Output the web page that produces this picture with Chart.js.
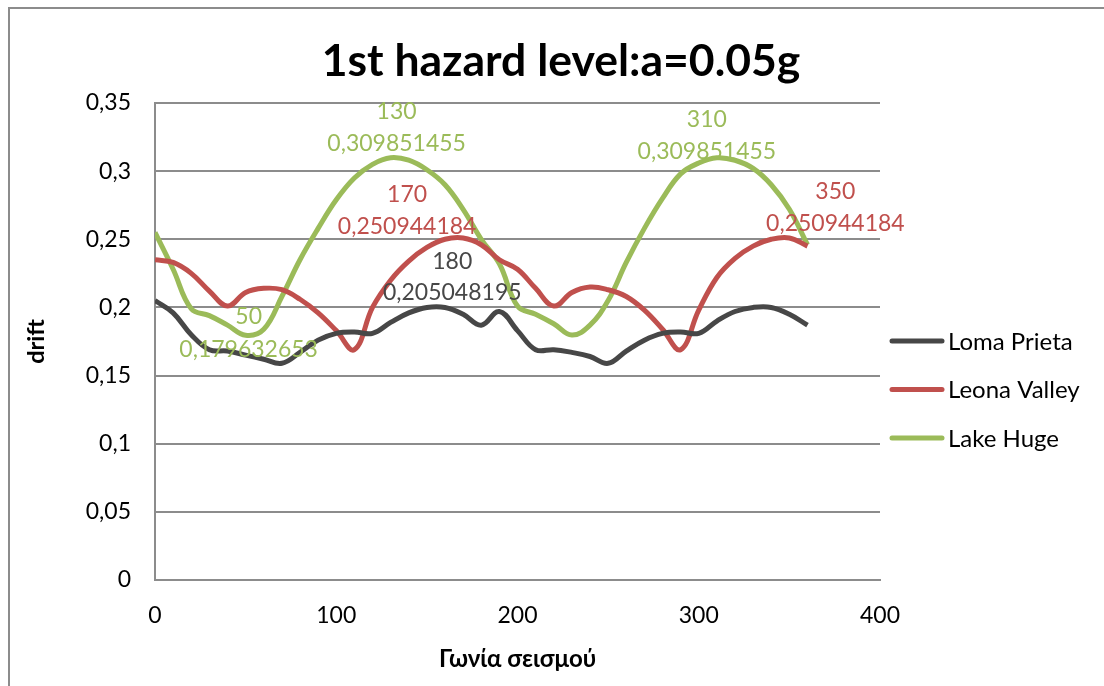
<!DOCTYPE html>
<html>
<head>
<meta charset="utf-8">
<script src="https://cdn.jsdelivr.net/npm/chart.js@4.4.1/dist/chart.umd.min.js"></script>
<style>
  html, body { margin: 0; padding: 0; background: #fff; }
  #wrap { position: relative; width: 1104px; height: 686px; overflow: hidden; background: #fff; }
  #frame { position: absolute; left: 8px; top: 7px; width: 1300px; height: 900px; border: 2px solid #8c8c8c; box-sizing: border-box; }
  #driftChart { position: absolute; left: 0; top: 0; }
</style>
</head>
<body>
<div id="wrap">
  <div id="frame"></div>
  <canvas id="driftChart" width="1104" height="686"></canvas>
</div>
<script>
// earthquake angle (deg) vs drift
const angles = [0, 10, 20, 30, 40, 50, 60, 70, 80, 90, 100, 110, 120, 130, 140, 150, 160, 170, 180,
                190, 200, 210, 220, 230, 240, 250, 260, 270, 280, 290, 300, 310, 320, 330, 340, 350, 360];

const lomaPrieta = [0.205, 0.196, 0.180, 0.169, 0.168, 0.165, 0.162, 0.159, 0.167, 0.176, 0.181, 0.182, 0.181,
                    0.189, 0.196, 0.200, 0.200, 0.195, 0.187, 0.197, 0.183, 0.169, 0.169, 0.167, 0.164, 0.159,
                    0.168, 0.176, 0.181, 0.182, 0.181, 0.190, 0.197, 0.200, 0.200, 0.195, 0.187];

const leonaValley = [0.235, 0.233, 0.225, 0.212, 0.201, 0.211, 0.214, 0.213, 0.206, 0.196, 0.183, 0.169, 0.200,
                     0.220, 0.234, 0.244, 0.250, 0.250944184, 0.246, 0.235, 0.228, 0.214, 0.201, 0.211, 0.215,
                     0.213, 0.208, 0.198, 0.184, 0.169, 0.198, 0.222, 0.236, 0.245, 0.250, 0.250944184, 0.245];

const lakeHuge = [0.255, 0.228, 0.199, 0.194, 0.187, 0.179632653, 0.184, 0.208, 0.235, 0.258, 0.279, 0.295,
                  0.305, 0.309851455, 0.308, 0.301, 0.290, 0.272, 0.250, 0.232, 0.201, 0.195, 0.188, 0.1797,
                  0.187, 0.205, 0.233, 0.258, 0.280, 0.298, 0.306, 0.309851455, 0.308, 0.302, 0.290, 0.272, 0.246];

const seriesNames = ['Loma Prieta', 'Leona Valley', 'Lake Huge'];
const seriesColors = ['#474747', '#C0504D', '#9BBB59'];

// data labels shown on the chart: which series, which angle, label value
const labelSeries = [2, 1, 0, 2, 2, 1];
const labelAngles = [130, 170, 180, 50, 310, 350];
const labelValues = [0.309851455, 0.250944184, 0.205048195, 0.179632653, 0.309851455, 0.250944184];

const yMin = 0, yMax = 0.35, yStep = 0.05;
const xMin = 0, xMax = 400, xStep = 100;

const FONT = 'Lato, "Open Sans", sans-serif';

function commaNum(v) {
    return String(v).replace('.', ',');
}

// label nudges in px (the excel labels were dragged around by hand)
const labelOffsets = [
    { dx: 6, dy: [-46, -14] },
    { dx: -56, dy: [-43, -11] },
    { dx: -29, dy: [-64, -33] },
    { dx: 3, dy: [-19, 14] },
    { dx: -10, dy: [-38, -6] },
    { dx: 46, dy: [-46, -14] }
];

const dataLabelPlugin = {
    id: 'dataLabels',
    afterDatasetsDraw(chart) {
        const ctx = chart.ctx;
        ctx.save();
        ctx.font = '23px ' + FONT;
        ctx.textAlign = 'center';
        ctx.textBaseline = 'middle';
        labelSeries.forEach((s, i) => {
            const idx = angles.indexOf(labelAngles[i]);
            const pt = chart.getDatasetMeta(s).data[idx];
            const off = labelOffsets[i];
            ctx.fillStyle = seriesColors[s];
            ctx.fillText(String(labelAngles[i]), pt.x + off.dx, pt.y + off.dy[0]);
            ctx.fillText(commaNum(labelValues[i]), pt.x + off.dx, pt.y + off.dy[1]);
        });
        ctx.restore();
    }
};

const legendPlugin = {
    id: 'sideLegend',
    afterDraw(chart) {
        const ctx = chart.ctx;
        const x0 = chart.chartArea.right + 10;
        ctx.save();
        ctx.font = '24px ' + FONT;
        ctx.textBaseline = 'middle';
        chart.data.datasets.forEach((ds, i) => {
            const y = 341 + i * 48.5;
            ctx.strokeStyle = ds.borderColor;
            ctx.lineWidth = 5;
            ctx.lineCap = 'round';
            ctx.beginPath();
            ctx.moveTo(x0 + 2, y);
            ctx.lineTo(x0 + 52, y);
            ctx.stroke();
            ctx.fillStyle = '#000';
            ctx.fillText(ds.label, x0 + 58, y + 1);
        });
        ctx.restore();
    }
};

function makeSeries(values, i) {
    return {
        label: seriesNames[i],
        data: angles.map((a, k) => ({ x: a, y: values[k] })),
        borderColor: seriesColors[i],
        backgroundColor: seriesColors[i],
        borderWidth: 5,
        pointRadius: 0,
        tension: 0.4,
        fill: false,
        yAxisID: 'y'
    };
}

const ctx = document.getElementById('driftChart').getContext('2d');
const driftChart = new Chart(ctx, {
    type: 'line',
    data: {
        datasets: [
            makeSeries(lomaPrieta, 0),
            makeSeries(leonaValley, 1),
            makeSeries(lakeHuge, 2)
        ]
    },
    options: {
        responsive: false,
        animation: false,
        devicePixelRatio: 1,
        layout: { padding: { left: 18, right: 0, top: 0, bottom: 0 } },
        plugins: {
            legend: { display: false },
            tooltip: { enabled: false },
            title: {
                display: true,
                text: '1st hazard level:a=0.05g',
                color: '#000',
                font: { family: FONT, size: 44.5, weight: 'bold', lineHeight: 1.2 },
                padding: { top: 35, bottom: 14.6 }
            }
        },
        scales: {
            x: {
                type: 'linear',
                min: xMin,
                max: xMax,
                ticks: { stepSize: xStep, color: '#000', font: { family: FONT, size: 23 }, padding: 22 },
                grid: { display: false, drawTicks: false },
                border: { color: '#8c8c8c', width: 2 },
                title: {
                    display: true,
                    text: 'Γωνία σεισμού',
                    color: '#000',
                    font: { family: FONT, size: 24, weight: 'bold', lineHeight: 1.2 },
                    padding: { top: 0, bottom: 12 }
                },
                afterFit(scale) { scale.height = 106; }
            },
            y: {
                min: yMin,
                max: yMax,
                ticks: {
                    stepSize: yStep,
                    color: '#000',
                    font: { family: FONT, size: 23 },
                    padding: 24,
                    callback: v => commaNum(parseFloat(v.toFixed(2)))
                },
                grid: { color: '#8c8c8c', lineWidth: 2, drawTicks: false },
                border: { color: '#8c8c8c', width: 2 },
                title: {
                    display: true,
                    text: 'drift',
                    color: '#000',
                    font: { family: FONT, size: 23.5, weight: 'bold', lineHeight: 1.2 },
                    padding: { top: 4, bottom: 0 }
                },
                afterFit(scale) { scale.width = 137; }
            },
            // empty right-hand box that holds the legend space
            legendSpace: {
                type: 'linear',
                position: 'right',
                display: true,
                ticks: { display: false },
                grid: { display: false, drawTicks: false },
                border: { display: false },
                afterFit(scale) { scale.width = 224; }
            }
        }
    },
    plugins: [dataLabelPlugin, legendPlugin]
});
</script>
</body>
</html>
